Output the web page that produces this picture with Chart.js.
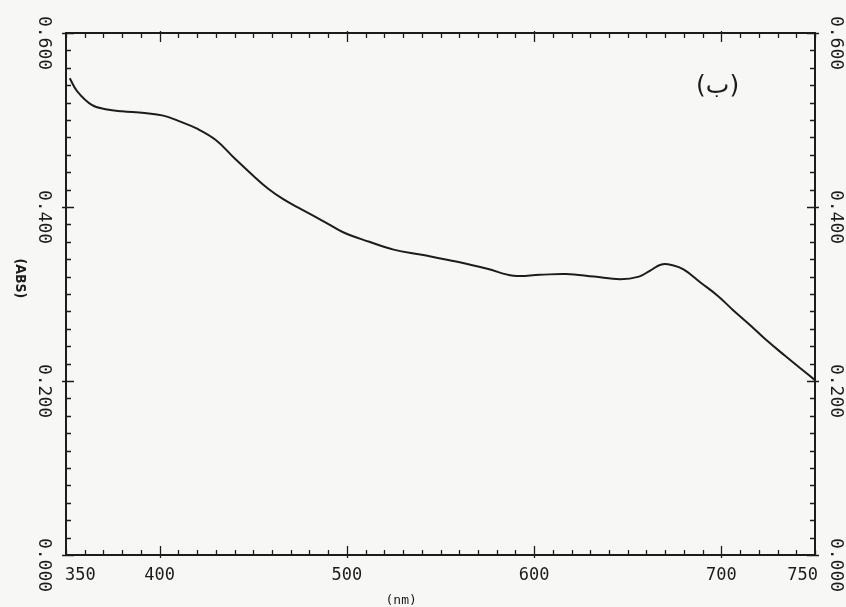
<!DOCTYPE html>
<html lang="en">
<head>
  <meta charset="UTF-8">
  <title>Absorbance spectrum</title>
  <script src="https://cdn.jsdelivr.net/npm/chart.js"></script>
  <style>
    html, body { margin: 0; padding: 0; background: #f7f7f5; }
    canvas { display: block; }
  </style>
</head>
<body>
  <canvas id="spectrum" width="846" height="607"></canvas>
  <script>
    // spectrum
    const wavelength = [352, 356, 364, 372, 380, 392, 402, 410, 420, 430, 440, 450, 458, 466, 476, 488, 498, 512, 525, 540,
                        559, 575, 589, 603, 617, 632, 646, 656, 662, 668, 674, 680, 689, 698, 706, 716, 724, 734, 742, 750];
    const absorbance = [0.548, 0.533, 0.517, 0.512, 0.510, 0.508, 0.505, 0.499, 0.490, 0.477, 0.456, 0.436, 0.421, 0.409, 0.397, 0.383, 0.371, 0.360, 0.351, 0.345,
                        0.337, 0.329, 0.321, 0.322, 0.323, 0.320, 0.317, 0.320, 0.327, 0.334, 0.333, 0.328, 0.313, 0.298, 0.282, 0.263, 0.247, 0.229, 0.215, 0.201];

    const xTickLabels = [350, 400, 500, 600, 700, 750];
    const xMajorTicks = [400, 500, 600, 700];
    const yTickValues = [0, 0.2, 0.4, 0.6];
    const yTickLabels = ['0.000', '0.200', '0.400', '0.600'];
    const yTitle = '(ABS)';
    const xTitle = '(nm)';
    const panelLabel = '(ب)';

    const ink = '#1c1c1c';

    // frame, inward ticks and rotated labels, all placed through the chart's scales
    const framePlugin = {
      id: 'frame',
      beforeDraw(chart) {
        const ctx = chart.ctx;
        ctx.save();
        ctx.fillStyle = '#f7f7f5';
        ctx.fillRect(0, 0, chart.width, chart.height);
        ctx.restore();
      },
      afterDraw(chart) {
        const ctx = chart.ctx;
        const a = chart.chartArea;
        const xs = chart.scales.x;
        const ys = chart.scales.y;
        ctx.save();
        ctx.strokeStyle = ink;
        ctx.fillStyle = ink;
        ctx.lineWidth = 2;
        ctx.strokeRect(a.left, a.top, a.right - a.left, a.bottom - a.top);

        ctx.lineWidth = 1.3;
        ctx.beginPath();
        for (let v = 350; v <= 750; v += 10) {
          const px = Math.round(xs.getPixelForValue(v)) + 0.5;
          const major = xMajorTicks.includes(v);
          ctx.moveTo(px, a.bottom + (major ? 3 : 0));
          ctx.lineTo(px, a.bottom - (major ? 9 : 5));
          ctx.moveTo(px, a.top - (major ? 2 : 0));
          ctx.lineTo(px, a.top + (major ? 9 : 5));
        }
        for (let i = 0; i <= 30; i++) {
          const v = i * 0.02;
          const py = Math.round(ys.getPixelForValue(v)) + 0.5;
          const major = i % 10 === 0;
          ctx.moveTo(a.left - (major ? 4 : 0), py);
          ctx.lineTo(a.left + (major ? 8 : 5), py);
          ctx.moveTo(a.right + (major ? 4 : 0), py);
          ctx.lineTo(a.right - (major ? 8 : 5), py);
        }
        ctx.stroke();

        // x tick labels
        ctx.font = '17px "DejaVu Sans Mono", monospace';
        ctx.textBaseline = 'middle';
        xTickLabels.forEach(v => {
          const px = xs.getPixelForValue(v);
          ctx.textAlign = v === 350 ? 'left' : (v === 750 ? 'right' : 'center');
          const dx = v === 350 ? -1 : (v === 750 ? 3 : 0);
          ctx.fillText(String(v), px + dx, a.bottom + 21);
        });

        // y tick labels, rotated clockwise on both sides
        ctx.font = '18px "DejaVu Sans Mono", monospace';
        ctx.textAlign = 'center';
        yTickValues.forEach((v, i) => {
          const py = ys.getPixelForValue(v) + 10;
          [a.left - 22, a.right + 21].forEach(px => {
            ctx.save();
            ctx.translate(px, py);
            ctx.rotate(Math.PI / 2);
            ctx.fillText(yTickLabels[i], 0, 0);
            ctx.restore();
          });
        });

        // axis titles
        ctx.save();
        ctx.font = 'bold 14px "DejaVu Sans Condensed", "DejaVu Sans", sans-serif';
        ctx.translate(a.left - 46, ys.getPixelForValue(0.318));
        ctx.rotate(Math.PI / 2);
        ctx.fillText(yTitle, 0, 0);
        ctx.restore();

        ctx.font = '13px "DejaVu Sans Mono", monospace';
        ctx.fillText(xTitle, xs.getPixelForValue(529), a.bottom + 46);

        ctx.font = '25px "DejaVu Sans", sans-serif';
        ctx.fillText(panelLabel, xs.getPixelForValue(698), ys.getPixelForValue(0.538));
        ctx.restore();
      }
    };

    const ctx = document.getElementById('spectrum').getContext('2d');
    new Chart(ctx, {
      type: 'line',
      data: {
        datasets: [{
          data: wavelength.map((w, i) => ({ x: w, y: absorbance[i] })),
          borderColor: ink,
          borderWidth: 2,
          pointRadius: 0,
          fill: false,
          tension: 0.4
        }]
      },
      options: {
        responsive: false,
        animation: false,
        devicePixelRatio: 1,
        layout: { padding: { left: 66, right: 31, top: 33, bottom: 52 } },
        scales: {
          x: { type: 'linear', min: 350, max: 750, display: false },
          y: { type: 'linear', min: 0, max: 0.6, display: false }
        },
        plugins: {
          legend: { display: false },
          tooltip: { enabled: false }
        }
      },
      plugins: [framePlugin]
    });
  </script>
</body>
</html>
